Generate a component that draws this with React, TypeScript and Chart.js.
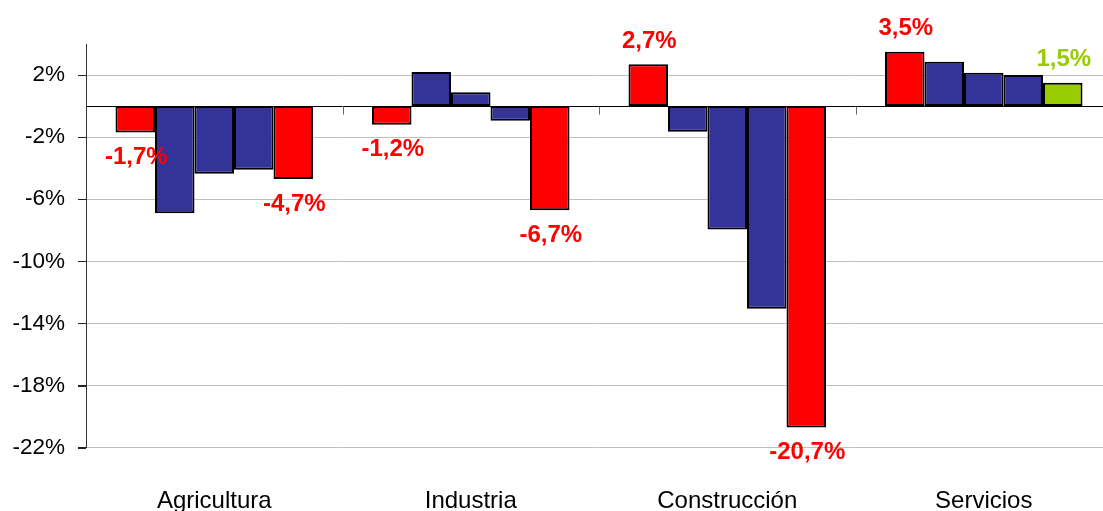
import React, { useEffect, useRef } from "react";
import { Chart, registerables } from "chart.js";

Chart.register(...registerables);

const categories = ["Agricultura", "Industria", "Construcción", "Servicios"];
const serie1 = [-1.7, -1.2, 2.7, 3.5];
const serie2 = [-6.9, 2.2, -1.65, 2.85];
const serie3 = [-4.35, 0.9, -7.95, 2.15];
const serie4 = [-4.1, -0.95, -13.05, 2.0];
const serie5 = [-4.7, -6.7, -20.7, 1.5];
const yTicks = [2, -2, -6, -10, -14, -18, -22];

const RED = "#FF0000";
const BLUE = "#333399";
const GREEN = "#99CC00";
const FONT = "'Liberation Sans', Arial, sans-serif";

const W = 1125;
const H = 520;

const fmt = (v: number) => v.toFixed(1).replace(".", ",") + "%";

const overlay = {
  id: "overlay",
  afterDatasetsDraw(chart: any) {
    const ctx = chart.ctx;
    const { left, right } = chart.chartArea;
    const y = chart.scales.y;
    const y0 = Math.round(y.getPixelForValue(0)) + 0.5;
    ctx.save();
    // zero line
    ctx.strokeStyle = "#000";
    ctx.lineWidth = 1;
    ctx.beginPath();
    ctx.moveTo(left, y0);
    ctx.lineTo(right, y0);
    ctx.stroke();
    // y-axis tick marks
    ctx.strokeStyle = "#222";
    yTicks.forEach((v) => {
      const yy = Math.round(y.getPixelForValue(v)) + 0.5;
      ctx.beginPath();
      ctx.moveTo(left - 8, yy);
      ctx.lineTo(left, yy);
      ctx.stroke();
    });
    // category boundary ticks
    const n = categories.length;
    const cw = (right - left) / n;
    ctx.strokeStyle = "#666";
    for (let i = 1; i <= n; i++) {
      const xx = Math.round(left + i * cw) + 0.5;
      ctx.beginPath();
      ctx.moveTo(xx, y0);
      ctx.lineTo(xx, y0 + 8);
      ctx.stroke();
    }
    // data labels on first and last series
    ctx.font = `bold 24px ${FONT}`;
    ctx.textAlign = "center";
    ctx.textBaseline = "middle";
    [0, 4].forEach((di) => {
      const ds = chart.data.datasets[di];
      const meta = chart.getDatasetMeta(di);
      meta.data.forEach((bar: any, i: number) => {
        const v = ds.data[i] as number;
        const col = Array.isArray(ds.backgroundColor) ? ds.backgroundColor[i] : ds.backgroundColor;
        ctx.fillStyle = col;
        const ty = v < 0 ? bar.y + 25 : bar.y - 23;
        ctx.fillText(fmt(v), bar.x + 1, ty);
      });
    });
    ctx.restore();
  },
};

export default function App() {
  const ref = useRef<HTMLCanvasElement | null>(null);
  useEffect(() => {
    if (!ref.current) return;
    const mk = (label: string, data: number[], bg: string | string[]) => ({
      label,
      data,
      backgroundColor: bg,
      borderColor: "#000",
      borderWidth: 2,
      borderSkipped: false,
      categoryPercentage: 0.77,
      barPercentage: 1,
    });
    const chart = new Chart(ref.current, {
      type: "bar",
      data: {
        labels: categories,
        datasets: [
          mk("s1", serie1, RED),
          mk("s2", serie2, BLUE),
          mk("s3", serie3, BLUE),
          mk("s4", serie4, BLUE),
          mk("s5", serie5, [RED, RED, RED, GREEN]),
        ],
      },
      options: {
        responsive: false,
        animation: false,
        devicePixelRatio: 1,
        layout: { padding: { left: 0, top: 44, right: W - 1112, bottom: 0 } },
        plugins: {
          legend: { display: false },
          tooltip: { enabled: false },
        },
        scales: {
          x: {
            position: "bottom",
            grid: { display: false, drawTicks: false },
            border: { display: false },
            ticks: {
              color: "#000",
              font: { family: FONT, size: 24 },
              padding: 39,
              maxRotation: 0,
              autoSkip: false,
            },
            afterFit: (s: any) => {
              s.height = H - 447.7;
            },
          },
          y: {
            min: -22,
            max: 4,
            afterBuildTicks: (s: any) => {
              s.ticks = yTicks.map((v) => ({ value: v }));
            },
            afterFit: (s: any) => {
              s.width = 86;
            },
            grid: {
              color: "#C0C0C0",
              lineWidth: 1,
              drawTicks: true,
              tickColor: "#222",
              tickLength: 8,
            },
            border: { display: true, color: "#333", width: 1 },
            ticks: {
              color: "#000",
              font: { family: FONT, size: 22.5 },
              padding: 13,
              callback: (v: any) => `${v}%`,
            },
          },
        },
      },
      plugins: [overlay],
    });
    return () => chart.destroy();
  }, []);
  return (
    <div
      style={{
        position: "fixed",
        left: 0,
        top: 0,
        width: 1103,
        height: 511,
        overflow: "hidden",
        background: "#fff",
      }}
    >
      <canvas ref={ref} width={W} height={H} style={{ width: W, height: H, display: "block" }} />
    </div>
  );
}
